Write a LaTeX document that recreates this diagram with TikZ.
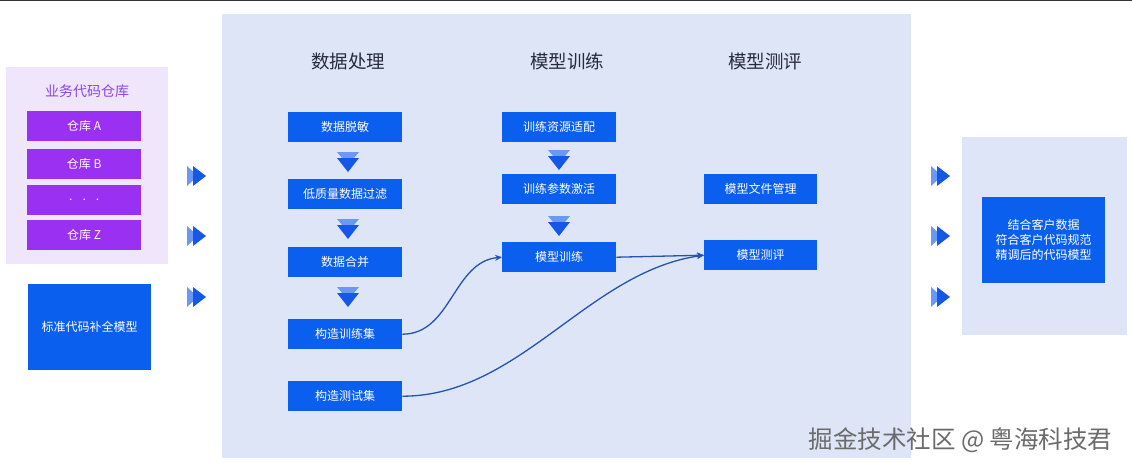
\documentclass[tikz,border=0pt]{standalone}
\usepackage{fontspec}
\setmainfont{Noto Sans CJK SC}
\usetikzlibrary{arrows.meta}
\definecolor{panelbg}{HTML}{DEE5F7}
\definecolor{leftbg}{HTML}{F0E6FC}
\definecolor{purplebox}{HTML}{9A31F2}
\definecolor{purpletitle}{HTML}{8A45E6}
\definecolor{bluebox}{HTML}{0B5FEE}
\definecolor{headcol}{HTML}{262C3C}
\definecolor{arrlight}{HTML}{6A98F2}
\definecolor{arrdark}{HTML}{1557E6}
\definecolor{linkcol}{HTML}{2453B0}
\tikzset{
  panel/.style={draw=none, anchor=north west, inner sep=0pt},
  bluestep/.style={fill=bluebox, text=white, anchor=north west, inner sep=0pt,
    font=\fontsize{12}{15}\selectfont, align=center},
  repobox/.style={fill=purplebox, text=white, anchor=north west, inner sep=0pt,
    minimum width=114pt, minimum height=30pt, font=\fontsize{12}{15}\selectfont},
  stepbox/.style={bluestep, minimum width=114pt, minimum height=30pt},
  heading/.style={text=headcol, font=\fontsize{18.5}{22}\selectfont},
  link/.style={draw=linkcol, line width=1.3pt, -{Stealth[length=7pt,width=6pt]}},
  rarr/.pic={
    \fill[arrlight] (0,-10) -- (11,0) -- (0,10) -- cycle;
    \fill[arrdark] (6,-10) -- (19,0) -- (6,10) -- cycle;
  },
  darr/.pic={
    \fill[arrlight] (-11,0) -- (11,0) -- (0,13) -- cycle;
    \fill[arrdark] (-11,6) -- (11,6) -- (0,20) -- cycle;
  }
}
\begin{document}
\begin{tikzpicture}[x=1pt,y=-1pt]
\useasboundingbox (0,0) rectangle (1132,471);
\fill[white] (0,0) rectangle (1132,471);
\draw[black!80, line width=1pt] (0,0.5) -- (1132,0.5);

% panels
\node[panel, fill=panelbg, minimum width=689pt, minimum height=444pt] (mid) at (222,14) {};
\node[panel, fill=leftbg, minimum width=162pt, minimum height=197pt] (left) at (6,67) {};
\node[panel, fill=panelbg, minimum width=165pt, minimum height=198pt] (right) at (962,137) {};

% left column
\node[text=purpletitle, font=\fontsize{14}{17}\selectfont] (ltitle) at (87,91) {业务代码仓库};
\node[repobox] (ra) at (27,111) {仓库 A};
\node[repobox] (rb) at (27,149) {仓库 B};
\node[repobox] (rd) at (27,185) {.\hspace{10pt}.\hspace{10pt}.};
\node[repobox] (rz) at (27,220) {仓库 Z};
\node[bluestep, minimum width=123pt, minimum height=86pt] (std) at (28,284) {标准代码补全模型};

% arrows left/right
\foreach \y in {176,236,297} {
  \pic at (187,\y) {rarr};
  \pic at (931,\y) {rarr};
}

% headings
\node[heading] (h1) at (348,61) {数据处理};
\node[heading] (h2) at (567,61) {模型训练};
\node[heading] (h3) at (765,61) {模型测评};

% column 1
\node[stepbox] (c1a) at (288,112) {数据脱敏};
\node[stepbox] (c1b) at (288,179) {低质量数据过滤};
\node[stepbox] (c1c) at (288,247) {数据合并};
\node[stepbox] (c1d) at (288,319) {构造训练集};
\node[stepbox] (c1e) at (288,381) {构造测试集};
\pic at (348,152) {darr};
\pic at (348,219) {darr};
\pic at (348,287) {darr};

% column 2
\node[stepbox] (c2a) at (502,112) {训练资源适配};
\node[stepbox] (c2b) at (502,174) {训练参数激活};
\node[stepbox] (c2c) at (502,242) {模型训练};
\pic at (559,150) {darr};
\pic at (559,216) {darr};

% column 3
\node[stepbox, minimum width=113pt] (c3a) at (704,174) {模型文件管理};
\node[stepbox, minimum width=113pt] (c3b) at (704,240) {模型测评};

% right result
\node[bluestep, minimum width=123pt, minimum height=86pt] (res) at (982,197)
  {结合客户数据\\符合客户代码规范\\精调后的代码模型};

% links
\draw[link] (c1d.east) to[out=0, in=185] (c2c.west);
\draw[link] (c1e.east) to[out=0, in=188, looseness=0.9] (c3b.west);
\draw[link] (c2c.east) -- (c3b.west);

% watermark
\node[anchor=west, text=black!58, font=\fontsize{24.5}{28}\selectfont] (wm) at (805,440) {掘金技术社区 @ 粤海科技君};
\end{tikzpicture}
\end{document}
